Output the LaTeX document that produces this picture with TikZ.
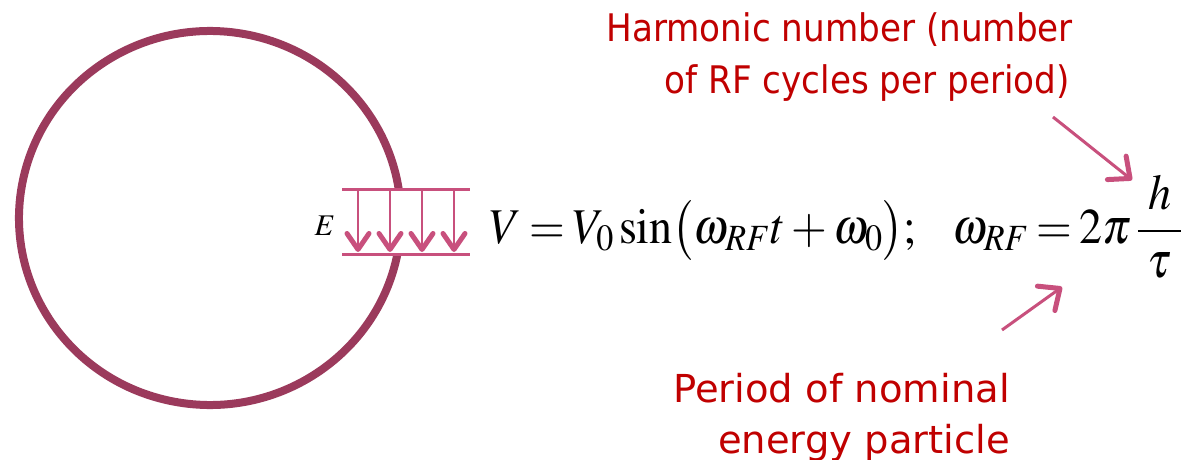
\documentclass[tikz,border=0pt]{standalone}
\usepackage{fontspec}
\usepackage{mathptmx}
\usetikzlibrary{arrows.meta}
\newfontfamily\labfont[FakeStretch=0.9]{DejaVu Sans}
\newfontfamily\labfontb{DejaVu Sans}
\definecolor{ring}{RGB}{155,58,92}
\definecolor{plate}{RGB}{200,80,125}
\definecolor{lab}{RGB}{192,0,0}
\tikzset{
  labtext/.style={text=lab, font=\labfont\fontsize{38}{46}\selectfont, inner sep=0pt, anchor=base east},
  labtextb/.style={text=lab, font=\labfontb\fontsize{38.5}{46}\selectfont, inner sep=0pt, anchor=base east},
  eqtext/.style={inner sep=0pt, anchor=base west, font=\fontsize{50}{60}\selectfont},
  platebar/.style={draw=plate, line width=3pt},
  field/.style={draw=plate, line width=2.5pt, -{Straight Barb[length=16pt,width=22pt,line width=5pt,round]}},
  pointer/.style={draw=plate, line width=3pt, -{Straight Barb[length=17pt,width=30pt,line width=5pt,round]}}
}
\begin{document}
\begin{tikzpicture}[x=1pt,y=-1pt]
\useasboundingbox (0,0) rectangle (1186,460);
% ring with gap
\draw[ring, line width=8pt] (210,218) ++(11.1:191 and 187)
  arc[start angle=11.1, end angle=351.1, x radius=191, y radius=187];
% plates
\coordinate (pl1) at (342,189); \coordinate (pr1) at (470,189);
\coordinate (pl2) at (342,254); \coordinate (pr2) at (470,254);
\draw[platebar] (pl1) -- (pr1);
\draw[platebar] (pl2) -- (pr2);
\foreach \x/\n in {358/a,390/b,422/c,454/d}{
  \coordinate (t\n) at (\x,189);
  \coordinate (b\n) at (\x,252);
  \draw[field] (t\n) -- (b\n);
}
\node[inner sep=0pt] (E) at (325,226) {\fontsize{30}{36}\selectfont$E$};
% equation
\node[eqtext] (eq1) at (490,243)
  {\scalebox{0.92}[1]{$\thickmuskip=3mu\medmuskip=2.5mu V = V_0\sin\bigl(\omega_{RF}t+\omega_0\bigr);$}};
\node[eqtext] (eq2) at (952,243)
  {\scalebox{0.92}[1]{$\displaystyle\thickmuskip=3mu \omega_{RF} = 2\pi\mkern2mu\frac{\mkern4mu h\mkern4mu}{\tau}$}};
% labels
\node[labtext] (h1) at (1073,42) {Harmonic number (number};
\node[labtext] (h2) at (1070,93) {of RF cycles per period)};
\node[labtextb] (p1) at (1010,402) {Period of nominal};
\node[labtextb] (p2) at (1010,453) {energy particle};
% pointers
\coordinate (ha) at (1053,117); \coordinate (hb) at (1132,180);
\coordinate (pa) at (1002,330); \coordinate (pb) at (1062,287);
\draw[pointer] (ha) -- (hb);
\draw[pointer] (pa) -- (pb);
\end{tikzpicture}
\end{document}
